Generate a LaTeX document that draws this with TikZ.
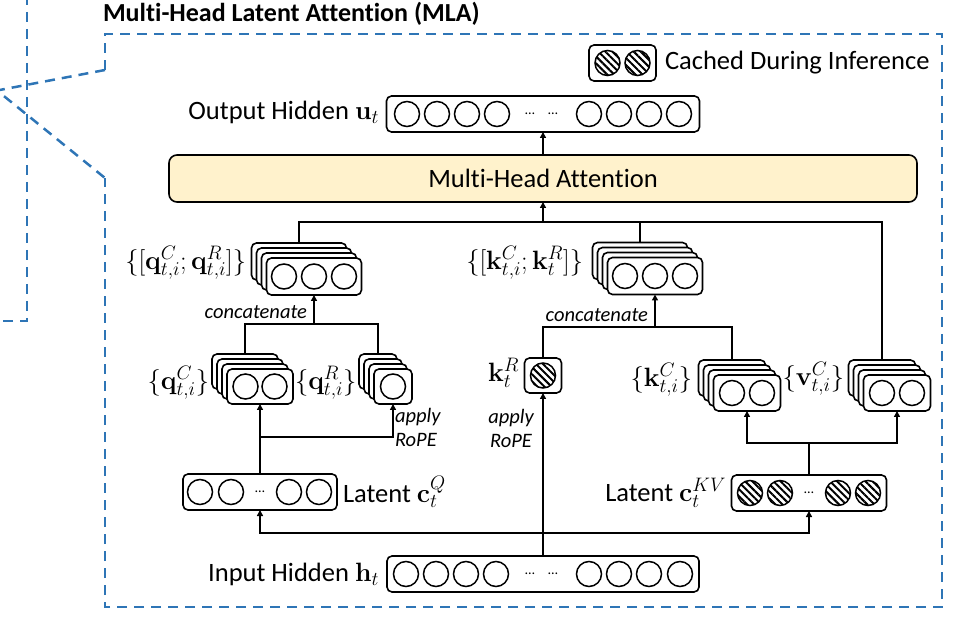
\RequirePackage{fix-cm}
\documentclass[tikz,border=0pt]{standalone}
\usepackage[no-math]{fontspec}
\setmainfont{Carlito}[Ligatures=CommonOff]
\DeclareMathSizes{26.5}{26.5}{19.5}{14}
\usetikzlibrary{arrows.meta,patterns.meta}
\definecolor{mlablue}{RGB}{46,117,182}
\definecolor{mhafill}{RGB}{255,242,204}
\newcommand{\cir}[2]{\draw[circ] (#1,#2) circle[radius=12.5pt];}
\newcommand{\hcir}[2]{\draw[circ,pattern={Lines[angle=-45,distance=5pt,line width=2pt]}] (#1,#2) circle[radius=12.5pt];}
\newcommand{\tdots}[2]{\node[font=\fontsize{14}{14}\selectfont] at (#1,#2) {…};}
\newcommand{\stk}[5]{%
  \node[vbox=#4, minimum height=#5] (#1b) at (#2-15,#3-15) {};
  \node[vbox=#4, minimum height=#5] at (#2-10,#3-10) {};
  \node[vbox=#4, minimum height=#5] at (#2-5,#3-5) {};
  \node[vbox=#4, minimum height=#5] (#1) at (#2,#3) {};}
\begin{document}
\begin{tikzpicture}[x=1pt,y=-1pt,
  every node/.style={font=\fontsize{26.5}{31}\selectfont, inner sep=0pt, outer sep=0pt},
  conn/.style={line width=1.6pt},
  arr/.style={conn, -{Triangle[length=6pt,width=6pt]}},
  circ/.style={line width=1.5pt},
  vbox/.style={draw, line width=1.6pt, rounded corners=5pt, fill=white, minimum width=#1, minimum height=36pt},
  bluedash/.style={draw=mlablue, line width=2.5pt, dash pattern=on 10pt off 7pt},
  itl/.style={font=\fontsize{20.5}{24}\selectfont\itshape}
]
\useasboundingbox (0,0) rectangle (970,620);

% ---- blue dashed frames ----
\draw[bluedash] (105,70) -- (105,34) -- (942,34) -- (942,607) -- (105,607) -- (105,178);
\draw[bluedash] (105,70) -- (-3,90.5) -- (105,178);
\draw[bluedash] (27,-5) -- (27,321) -- (-5,321);

% ---- title ----
\node[anchor=west, font=\fontsize{26}{30}\selectfont\bfseries] (title) at (103,14) {Multi-Head Latent Attention (MLA)};

% ---- legend ----
\node[vbox=67pt] (leg) at (622.5,63) {};
\hcir{607.5}{63}\hcir{637.5}{63}
\node[anchor=west] (legtxt) at (665,63) {Cached During Inference};

% ---- output hidden ----
\node[vbox=313pt] (out) at (543,114) {};
\foreach \d in {-136,-106,-76,-46,46,76,106,136} {\cir{543+\d}{114}}
\tdots{530}{114}\tdots{553}{114}
\node[anchor=east] (outlbl) at (379,112) {Output Hidden $\mathbf{u}_t$};

% ---- multi-head attention ----
\node[draw, line width=1.6pt, rounded corners=8pt, fill=mhafill, minimum width=748pt, minimum height=47pt] (mha) at (543,178.5) {Multi-Head Attention};

% ---- concatenated stacks ----
\stk{qs}{314}{276.5}{95pt}{37pt}
\foreach \d in {-30,0,30} {\cir{314+\d}{276.5}}
\node[anchor=east] (qslbl) at (246,263) {$\{[\mathbf{q}^{C}_{t,i};\mathbf{q}^{R}_{t,i}]\}$};

\stk{ks}{655}{276}{95pt}{37pt}
\foreach \d in {-30,0,30} {\cir{655+\d}{276}}
\node[anchor=east] (kslbl) at (583,263) {$\{[\mathbf{k}^{C}_{t,i};\mathbf{k}^{R}_{t}]\}$};

% ---- q components ----
\stk{qc}{260}{386.5}{66pt}{35pt}
\cir{245.5}{386.5}\cir{274.5}{386.5}
\node[anchor=east] (qclbl) at (209,383) {$\{\mathbf{q}^{C}_{t,i}\}$};

\stk{qr}{393}{386.5}{38pt}{35pt}
\cir{393}{386.5}
\node[anchor=west] (qrlbl) at (295,383) {$\{\mathbf{q}^{R}_{t,i}\}$};

% ---- k components ----
\node[vbox=37pt, minimum height=35pt] (kr) at (543,375.5) {};
\hcir{543}{375.5}
\node[anchor=east] (krlbl) at (519,373) {$\mathbf{k}^{R}_{t}$};

\stk{kc}{747}{393}{67pt}{36pt}
\cir{732}{393}\cir{762}{393}
\node[anchor=east] (kclbl) at (692,380) {$\{\mathbf{k}^{C}_{t,i}\}$};

\stk{vc}{897}{393}{67pt}{36pt}
\cir{882}{393}\cir{912}{393}
\node[anchor=east] (vclbl) at (844,379) {$\{\mathbf{v}^{C}_{t,i}\}$};

% ---- latents ----
\node[vbox=154pt] (lq) at (260,492) {};
\cir{200}{492}\cir{231}{492}\tdots{260}{492}\cir{289}{492}\cir{319}{492}
\node[anchor=west] (lqlbl) at (343,492) {Latent $\mathbf{c}^{Q}_{t}$};

\node[vbox=155pt] (lkv) at (809,493) {};
\hcir{750}{493}\hcir{780}{493}\tdots{809}{493}\hcir{838}{493}\hcir{868}{493}
\node[anchor=east] (lkvlbl) at (726,493) {Latent $\mathbf{c}^{KV}_{t}$};

% ---- input hidden ----
\node[vbox=312pt] (in) at (543,574) {};
\foreach \d in {-137,-107,-77,-47,46,76,106,137} {\cir{543+\d}{574}}
\tdots{530}{574}\tdots{553}{574}
\node[anchor=east] (inlbl) at (379,574) {Input Hidden $\mathbf{h}_t$};

% ---- connectors ----
\coordinate (bus) at (543,222);
\draw[conn] (qsb.north) |- (bus) -| (vcb.north);
\draw[conn] (ksb.north) -- ++(0,-21);
\draw[arr] (bus) -- (mha.south);
\draw[arr] (mha.north) -- (out.south);

\coordinate (qcat) at (314,324);
\draw[conn] (qcb.north) |- (qcat) -| (qrb.north);
\draw[arr] (qcat) -- (qs.south);
\node[itl, anchor=east] (qcattxt) at (307,312) {concatenate};

\coordinate (kcat) at (655,327);
\draw[conn] (kr.north) |- (kcat) -| (kcb.north);
\draw[arr] (kcat) -- (ks.south);
\node[itl, anchor=east] (kcattxt) at (648,315) {concatenate};

\coordinate (qbr) at (260,437);
\draw[conn] (lq.north) -- (qbr);
\draw[arr] (qbr) -- (qc.south);
\draw[arr] (qbr) -| (qr.south);
\node[itl, anchor=west, align=left] (qrope) at (395,427) {apply\\RoPE};

\coordinate (kvbr) at (809,443);
\draw[conn] (lkv.north) -- (kvbr);
\draw[arr] (kvbr) -| (kc.south);
\draw[arr] (kvbr) -| (vc.south);

\coordinate (inbr) at (543,533);
\draw[arr] (in.north) -- (kr.south);
\draw[arr] (inbr) -| (lq.south);
\draw[arr] (inbr) -| (lkv.south);
\node[itl, align=center] (krope) at (511,428) {apply\\RoPE};
\end{tikzpicture}
\end{document}
